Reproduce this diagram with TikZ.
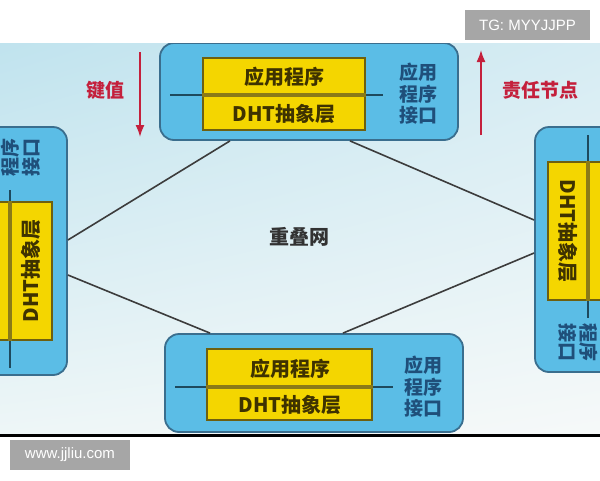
\documentclass[tikz,border=0pt]{standalone}
\usepackage{fontspec}
\setmainfont{Noto Sans CJK SC}
\newfontfamily\wmfont{Liberation Sans}
\usetikzlibrary{calc,arrows.meta,shadings}
\definecolor{boxblue}{HTML}{5BBDE6}
\definecolor{boxedge}{HTML}{3A6E8E}
\definecolor{yel}{HTML}{F4D600}
\definecolor{yedge}{HTML}{6E6010}
\definecolor{band}{HTML}{8A7A18}
\definecolor{ytxt}{HTML}{3E3200}
\definecolor{apiblue}{HTML}{1F4F7A}
\definecolor{redc}{HTML}{C4203C}
\definecolor{midline}{HTML}{1E4A5E}
\definecolor{conn}{HTML}{3C3C3C}
\definecolor{wmgray}{HTML}{A6A6A6}
\definecolor{bgul}{RGB}{192,227,238}
\definecolor{bgur}{RGB}{214,236,243}
\definecolor{bgll}{RGB}{238,246,247}
\definecolor{bglr}{RGB}{246,249,249}
\definecolor{ovtxt}{RGB}{50,50,50}
\begin{document}
\begin{tikzpicture}[x=1pt,y=-1pt,
  nodebox/.style={draw=boxedge,line width=1.8pt,fill=boxblue,rounded corners=14pt,inner sep=0pt},
  ybox/.style={draw=yedge,line width=1.5pt,fill=yel,inner sep=0pt},
  ytext/.style={font=\fontsize{20}{22}\selectfont\bfseries,text=ytxt,inner sep=0pt},
  api/.style={font=\fontsize{19}{21.5}\selectfont\bfseries,text=apiblue,align=center,inner sep=0pt},
  redtext/.style={font=\fontsize{19}{21}\selectfont\bfseries,text=redc,inner sep=0pt},
  redarrow/.style={draw=redc,line width=1.6pt,-{Latex[length=12pt,width=9pt]}},
  connector/.style={draw=conn,line width=1.6pt},
  layerline/.style={draw=midline,line width=1.8pt},
  bandline/.style={draw=band,line width=4pt},
  wmbox/.style={fill=wmgray,inner sep=0pt,text=white,font=\wmfont\fontsize{15}{17}\selectfont}
]
\useasboundingbox (0,0) rectangle (600,480);
\fill[white] (0,0) rectangle (600,480);
\begin{scope}
\clip (0,43) rectangle (600,435);
\shade[upper left=bgul,upper right=bgur,lower left=bgll,lower right=bglr]
  (0,43) rectangle (600,435);

% boxes
\node[nodebox,minimum width=298pt,minimum height=97pt] (topbox) at (309,91.5) {};
\node[nodebox,minimum width=298pt,minimum height=98pt] (botbox) at (314,383) {};
\node[nodebox,minimum width=98pt,minimum height=248pt] (leftbox) at (18,251) {};
\node[nodebox,minimum width=98pt,minimum height=245pt] (rightbox) at (584,249.5) {};

% connectors
\draw[connector] ([xshift=-79pt]topbox.south) -- ([yshift=11pt]leftbox.east);
\draw[connector] ([xshift=41pt]topbox.south) -- ([yshift=29.5pt]rightbox.west);
\draw[connector] ([yshift=-24pt]leftbox.east) -- ([xshift=-104pt]botbox.north);
\draw[connector] ([xshift=29pt]botbox.north) -- ([yshift=-3.5pt]rightbox.west);

% top box content
\node[ybox,minimum width=162pt,minimum height=72pt] (ytop) at (284,94) {};
\coordinate (tl1) at (170,95); \coordinate (tl2) at (383,95);
\draw[layerline] (tl1) -- (tl2);
\draw[bandline] (ytop.west |- tl1) -- (ytop.east |- tl1);
\node[ytext] (t1) at (284,77) {应用程序};
\node[ytext] (t2) at (284,114) {DHT抽象层};
\node[api] (tapi) at (418,94) {应用\\程序\\接口};

% bottom box content
\node[ybox,minimum width=165pt,minimum height=71pt] (ybot) at (289.5,384.5) {};
\coordinate (bl1) at (175,387); \coordinate (bl2) at (393,387);
\draw[layerline] (bl1) -- (bl2);
\draw[bandline] (ybot.west |- bl1) -- (ybot.east |- bl1);
\node[ytext] (b1) at (290,369) {应用程序};
\node[ytext] (b2) at (290,405) {DHT抽象层};
\node[api] (bapi) at (423,387) {应用\\程序\\接口};

% left box content (rotated, partly outside the frame)
\node[ybox,minimum width=82pt,minimum height=138pt] (yleft) at (11,271) {};
\coordinate (ll1) at (10,190); \coordinate (ll2) at (10,368);
\draw[layerline] (ll1) -- (ll2);
\draw[bandline] (ll1 |- yleft.north) -- (ll1 |- yleft.south);
\node[ytext,rotate=90] (l2) at (31,271) {DHT抽象层};
\node[api,rotate=90] (lapi) at (10,157) {应用\\程序\\接口};

% right box content (rotated, partly outside the frame)
\node[ybox,minimum width=82pt,minimum height=138pt] (yright) at (589,231) {};
\coordinate (rl1) at (588,135); \coordinate (rl2) at (588,318);
\draw[layerline] (rl1) -- (rl2);
\draw[bandline] (rl1 |- yright.north) -- (rl1 |- yright.south);
\node[ytext,rotate=-90] (r2) at (568,231) {DHT抽象层};
\node[api,rotate=-90] (rapi) at (589,342) {应用\\程序\\接口};

% overlay label
\node[font=\fontsize{20}{22}\selectfont\bfseries,text=ovtxt,inner sep=0pt] (overlay) at (299,237) {重叠网};

% red arrows and labels
\coordinate (ka) at (140,52); \coordinate (kb) at (140,137);
\draw[redarrow] (ka) -- (kb);
\node[redtext] (kv) at (105,90) {键值};
\coordinate (ra) at (481,135); \coordinate (rb) at (481,50);
\draw[redarrow] (ra) -- (rb);
\node[redtext] (resp) at (540,90) {责任节点};
\end{scope}

% bottom edge line
\draw[black,line width=3pt] (0,435) -- (600,435);

% watermarks
\node[wmbox,minimum width=125pt,minimum height=30pt] (tg) at (527.5,25) {TG: MYYJJPP};
\node[wmbox,minimum width=120pt,minimum height=30pt] (www) at (70,455) {www.jjliu.com};
\end{tikzpicture}
\end{document}
